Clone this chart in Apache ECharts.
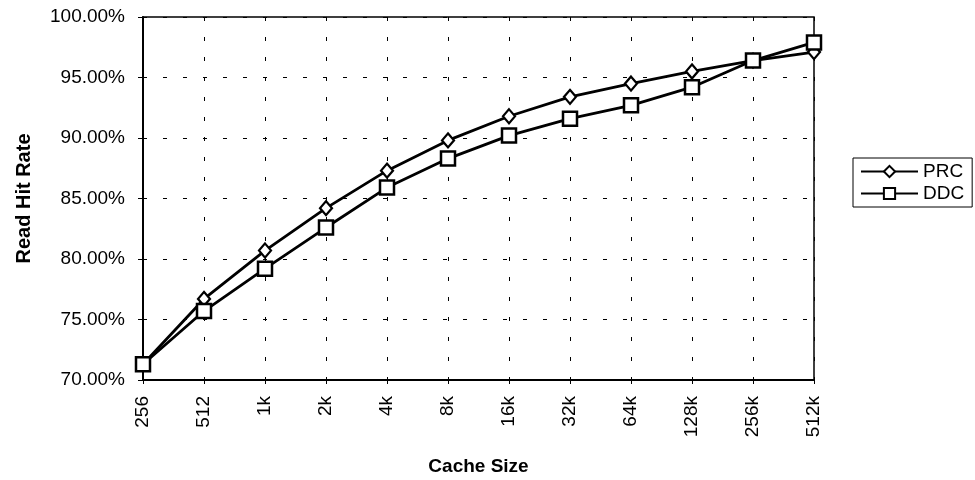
<!DOCTYPE html>
<html>
<head>
<meta charset="utf-8">
<script src="https://cdn.jsdelivr.net/npm/echarts@6/dist/echarts.min.js"></script>
<style>
  html, body { margin: 0; padding: 0; background: #fff; }
  #chart { width: 975px; height: 480px; }
</style>
</head>
<body>
<div id="chart"></div>
<script>
// Cache sizes on the x axis
const cacheSizes = ['256', '512', '1k', '2k', '4k', '8k', '16k', '32k', '64k', '128k', '256k', '512k'];
// Read hit rate (%) per cache size
const prcHitRate = [71.3, 76.7, 80.7, 84.2, 87.3, 89.8, 91.8, 93.4, 94.5, 95.5, 96.4, 97.1];
const ddcHitRate = [71.3, 75.7, 79.2, 82.6, 85.9, 88.3, 90.2, 91.6, 92.7, 94.2, 96.4, 97.9];
// Y axis range and step
const yMin = 70, yMax = 100, yStep = 5;

const FONT = 'Liberation Sans, Arial, sans-serif';
const dashed = { color: '#000', width: 1, type: [4, 16] };

const chart = echarts.init(document.getElementById('chart'), null, { renderer: 'canvas' });

chart.setOption({
  animation: false,
  backgroundColor: '#fff',
  grid: {
    left: 143, right: 161, top: 17, bottom: 100,
    outerBoundsMode: 'none',
    containLabel: false,
    show: true, borderColor: '#000', borderWidth: 1.5, backgroundColor: 'transparent'
  },
  legend: {
    orient: 'vertical',
    left: 853, top: 158,
    padding: [4, 8, 4, 7],
    itemGap: 3,
    itemWidth: 57, itemHeight: 14,
    borderColor: '#000', borderWidth: 1,
    textStyle: { fontFamily: FONT, fontSize: 19, color: '#000' },
    data: ['PRC', 'DDC']
  },
  xAxis: {
    type: 'category',
    data: cacheSizes,
    boundaryGap: false,
    name: 'Cache Size',
    nameLocation: 'middle',
    nameGap: 77,
    nameTextStyle: { fontFamily: FONT, fontSize: 19, fontWeight: 'bold', color: '#000' },
    axisLine: { lineStyle: { color: '#000', width: 2 } },
    axisTick: { show: true, length: 4, lineStyle: { color: '#000', width: 1 } },
    axisLabel: { rotate: 90, fontFamily: FONT, fontSize: 19, color: '#000', margin: 16 },
    splitLine: { show: true, lineStyle: dashed }
  },
  yAxis: {
    type: 'value',
    min: yMin, max: yMax, interval: yStep,
    name: 'Read Hit Rate',
    nameLocation: 'middle',
    nameGap: 109,
    nameTextStyle: { fontFamily: FONT, fontSize: 20, fontWeight: 'bold', color: '#000' },
    axisLine: { show: true, lineStyle: { color: '#000', width: 2 } },
    axisTick: { show: true, length: 5, lineStyle: { color: '#000', width: 1 } },
    axisLabel: {
      fontFamily: FONT, fontSize: 19, color: '#000', margin: 18,
      formatter: v => v.toFixed(2) + '%'
    },
    splitLine: { show: true, lineStyle: dashed }
  },
  series: [
    {
      name: 'PRC',
      type: 'line',
      data: prcHitRate,
      symbol: 'diamond',
      symbolSize: [12, 14],
      showAllSymbol: true,
      lineStyle: { color: '#000', width: 2.8 },
      itemStyle: { color: '#fff', borderColor: '#000', borderWidth: 2.2 },
      z: 3
    },
    {
      name: 'DDC',
      type: 'line',
      data: ddcHitRate,
      symbol: 'rect',
      symbolSize: 14,
      showAllSymbol: true,
      lineStyle: { color: '#000', width: 2.8 },
      itemStyle: { color: '#fff', borderColor: '#000', borderWidth: 2.5 },
      z: 4
    }
  ]
});
</script>
</body>
</html>
